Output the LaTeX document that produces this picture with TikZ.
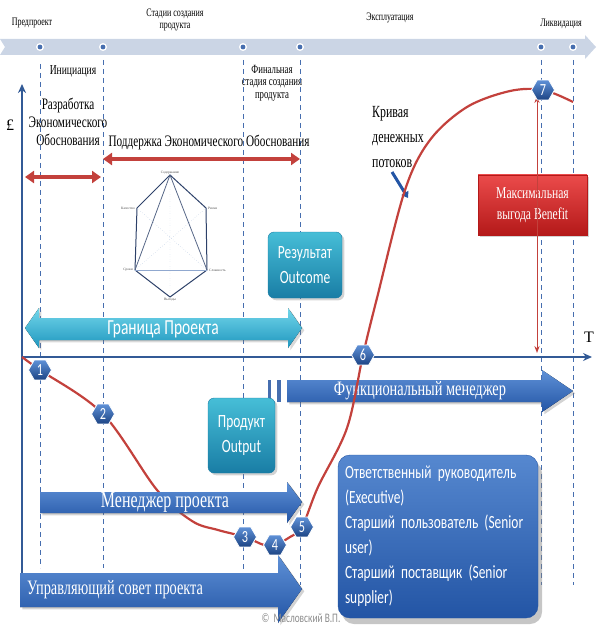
\documentclass[tikz,border=0pt]{standalone}
\usepackage{fontspec}
\setmainfont{Liberation Serif}
\newfontfamily\cond[FakeStretch=0.7]{Liberation Serif}
\newfontfamily\calib[FakeStretch=0.72]{Carlito}
\newcommand\tightsp{\spaceskip=3.6pt plus 1pt minus 0.5pt\relax}
\usetikzlibrary{shapes.geometric,arrows.meta,shadows,positioning}

\definecolor{bandblue}{RGB}{203,213,229}
\definecolor{dotblue}{RGB}{70,110,175}
\definecolor{axisblue}{RGB}{50,90,150}
\definecolor{curvered}{RGB}{195,65,60}
\definecolor{arrowtop}{RGB}{95,145,215}
\definecolor{arrowbot}{RGB}{35,85,165}
\definecolor{cyantop}{RGB}{115,215,235}
\definecolor{cyanbot}{RGB}{30,150,190}
\definecolor{tealtop}{RGB}{70,190,215}
\definecolor{tealbot}{RGB}{25,125,165}
\definecolor{redtop}{RGB}{235,75,75}
\definecolor{redbot}{RGB}{180,25,25}
\definecolor{radar}{RGB}{45,65,105}

\begin{document}
\begin{tikzpicture}[x=1pt, y=-1pt,
  stage/.style = {font=\cond\fontsize{11.4}{12}\selectfont, align=center, inner sep=0},
  note/.style = {font=\cond\fontsize{16}{18}\selectfont, align=center, inner sep=0},
  tiny/.style = {font=\fontsize{3.5}{4}\selectfont, inner sep=1pt, text=black!70},
  vline/.style = {dotblue, line width=0.8pt, dash pattern=on 5pt off 4pt},
  span/.style = {curvered, line width=4pt, {Triangle[length=9pt,width=12pt]}-{Triangle[length=9pt,width=12pt]}},
  bluearrow/.style = {top color=arrowtop, bottom color=arrowbot, drop shadow={opacity=0.35}},
  arrowtext/.style = {text=white, font=\cond\fontsize{20.5}{22}\selectfont, inner sep=0},
  tealbox/.style = {draw=tealbot, rounded corners=6pt, top color=tealtop, bottom color=tealbot,
    drop shadow={opacity=0.35}, text=white, font=\calib\fontsize{18.7}{25}\selectfont, align=center, inner sep=0},
  badge/.style = {regular polygon, regular polygon sides=6, minimum size=23pt, inner sep=0,
    top color=arrowtop, bottom color=arrowbot!80!black, draw=white, line width=0.8pt,
    text=white, font=\calib\fontsize{17}{17}\selectfont}]
\useasboundingbox (0,0) rectangle (597,644);

% stage band
\fill[bandblue] (0,39) -- (585,39) -- (585,35) -- (596,47) -- (585,59) -- (585,55) -- (0,55) -- (5,47) -- cycle;
\foreach \x in {40,103,243,300,541,573} {
  \fill[white] (\x,47) circle (4pt);
  \fill[dotblue] (\x,47) circle (2.4pt);
}
\node[stage] (preproekt) at (32,23) {Предпроект};
\node[stage] (stadii) at (175,20) {Стадии создания\\продукта};
\node[stage] (ekspl) at (390,18) {Эксплуатация};
\node[stage] (likv) at (561,24) {Ликвидация};
\node[stage, font=\cond\fontsize{13.7}{14}\selectfont] (init) at (73,71) {Инициация};
\node[stage, font=\cond\fontsize{12.5}{12.5}\selectfont] (final) at (272,83) {Финальная\\стадия создания\\продукта};

% stage borders
\draw[vline] (40,64) -- (40,568);
\draw[vline] (103,60) -- (103,568);
\draw[vline] (243,60) -- (243,575);
\draw[vline] (300,60) -- (300,585);
\draw[vline] (541,60) -- (541,585);
\draw[vline] (573,60) -- (573,585);

% axes
\draw[axisblue, line width=2.5pt, -{Stealth[length=9pt,width=8pt]}] (22,600) -- (22,84);
\draw[axisblue, line width=2.5pt, -{Stealth[length=9pt,width=8pt]}] (22,357) -- (592,357);
\node[font=\fontsize{16}{16}\selectfont] (pound) at (10,125) {£};
\node[font=\fontsize{16}{16}\selectfont] (time) at (589,337) {T};

% business case
\node[note] (razrab) at (68,122) {Разработка\\Экономического\\Обоснования};
\node[note] (podder) at (209,142) {Поддержка Экономического Обоснования};
\draw[span] (103,159) -- (300,159);
\draw[span] (25,177) -- (101,177);

% radar
\coordinate (rc) at (170,238);
\coordinate (rTop) at (170,175);
\coordinate (rUR) at (206,208);
\coordinate (rLR) at (207,270);
\coordinate (rBot) at (170,297);
\coordinate (rLL) at (135,270);
\coordinate (rUL) at (137,208);
\draw[dotblue!50, dotted] (rTop) -- (rBot) (rUL) -- (rLR) (rUR) -- (rLL);
\draw[radar, line width=1pt, line join=round] (rTop) -- (rUR) -- (rLR) -- (rBot) -- (rLL) -- (rUL) -- cycle;
\draw[radar!80, line width=0.8pt] (rLL) -- (rTop) -- (rLR);
\draw[dotblue!60, line width=0.8pt] (rLL) -- (rLR);
\node[tiny, above=0pt of rTop] (soderzh) {Содержание};
\node[tiny, right=1pt of rUR] (riski) {Риски};
\node[tiny, right=1pt of rLR] (slozh) {Сложность};
\node[tiny, below=0pt of rBot] (vygody) {Выгоды};
\node[tiny, left=1pt of rLL] (sroki) {Сроки};
\node[tiny, left=1pt of rUL] (kach) {Качество};

% project boundary
\fill[top color=cyantop, bottom color=cyanbot, drop shadow={opacity=0.3}]
  (25,328) -- (39,308) -- (39,318) -- (288,318) -- (288,308) -- (302,328) -- (288,348)
  -- (288,340) -- (39,340) -- (39,348) -- cycle;
\node[text=white, font=\calib\fontsize{21.5}{21}\selectfont\tightsp] (granica) at (163,329) {Граница Проекта};

% outcome and benefit
\node[tealbox, minimum width=74pt, minimum height=66pt] (outcome) at (305,265) {Результат\\Outcome};
\node[note, align=left, font=\cond\fontsize{17}{25}\selectfont] (kriv) at (398,137) {Кривая\\денежных\\потоков};
\draw[arrowbot, line width=3pt, -{Triangle[length=6pt,width=8pt]}] (392,172) -- (408,198);
\node[draw=redbot, top color=redtop, bottom color=redbot, drop shadow={opacity=0.35},
  minimum width=109pt, minimum height=60pt, inner sep=0, text=white, align=center,
  font=\cond\fontsize{16.6}{21}\selectfont] (benefit) at (532.5,205) {Максимальная\\выгода Benefit};
\draw[curvered, line width=1pt, {Stealth[length=7pt]}-{Stealth[length=7pt]}] (537,96) -- (537,353);

% functional manager
\fill[dotblue] (268,380) rectangle (271,402);
\fill[dotblue] (277,380) rectangle (281,402);
\fill[bluearrow] (287,380) -- (542,380) -- (542,370) -- (573,391) -- (542,412) -- (542,402) -- (287,402) -- cycle;
\node[arrowtext] (funcman) at (420,391) {Функциональный менеджер};

% cash flow curve
\coordinate (p0) at (22,357);
\coordinate (p1) at (40,370);
\coordinate (p2) at (103,414);
\coordinate (p3) at (245,537);
\coordinate (p4) at (275,545);
\coordinate (p5) at (302,527);
\coordinate (p6) at (363,355);
\coordinate (p7) at (543,90);
\draw[curvered, line width=2.2pt] plot[smooth, tension=0.55] coordinates {
  (p0) (p1) (p2) (157,490) (192,521) (218,530) (p3) (264,545) (p4) (290,537) (p5)
  (318,487) (347,428) (p6) (377,298) (405,190) (430,140) (467,107) (510,91) (p7) (573,102)};

% project manager
\fill[bluearrow] (40,492) -- (287,492) -- (287,482) -- (302,502) -- (287,523) -- (287,513) -- (40,513) -- cycle;
\node[arrowtext, font=\cond\fontsize{22.8}{23}\selectfont] (projman) at (165,502) {Менеджер проекта};
\node[tealbox, minimum width=67pt, minimum height=75pt] (output) at (241.5,435.5) {Продукт\\Output};

% project board
\fill[bluearrow] (20,573) -- (278,573) -- (278,555) -- (302,589) -- (278,623) -- (278,607) -- (20,607) -- cycle;
\node[arrowtext, anchor=west] (board) at (27,590) {Управляющий совет проекта};
\node[draw=arrowbot, rounded corners=12pt, top color=arrowtop!85!arrowbot, bottom color=arrowbot,
  drop shadow={opacity=0.45, shadow xshift=4pt, shadow yshift=-6pt},
  minimum width=200pt, minimum height=163pt, text width=186pt, align=left, inner sep=0,
  text=white, font=\calib\fontsize{18.6}{25}\selectfont\tightsp] (roles) at (438,536.5)
  {Ответственный руководитель\\(Executive)\\Старший пользователь (Senior\\user)\\Старший поставщик (Senior\\supplier)};
\node[text=black!45, font=\calib\fontsize{13}{13}\selectfont, anchor=west] (copy) at (258,618) {©\ \ Масловский В.П.};

% milestones
\foreach \i in {1,...,7} {
  \node[badge] (b\i) at (p\i) {\i};
}
\end{tikzpicture}
\end{document}
